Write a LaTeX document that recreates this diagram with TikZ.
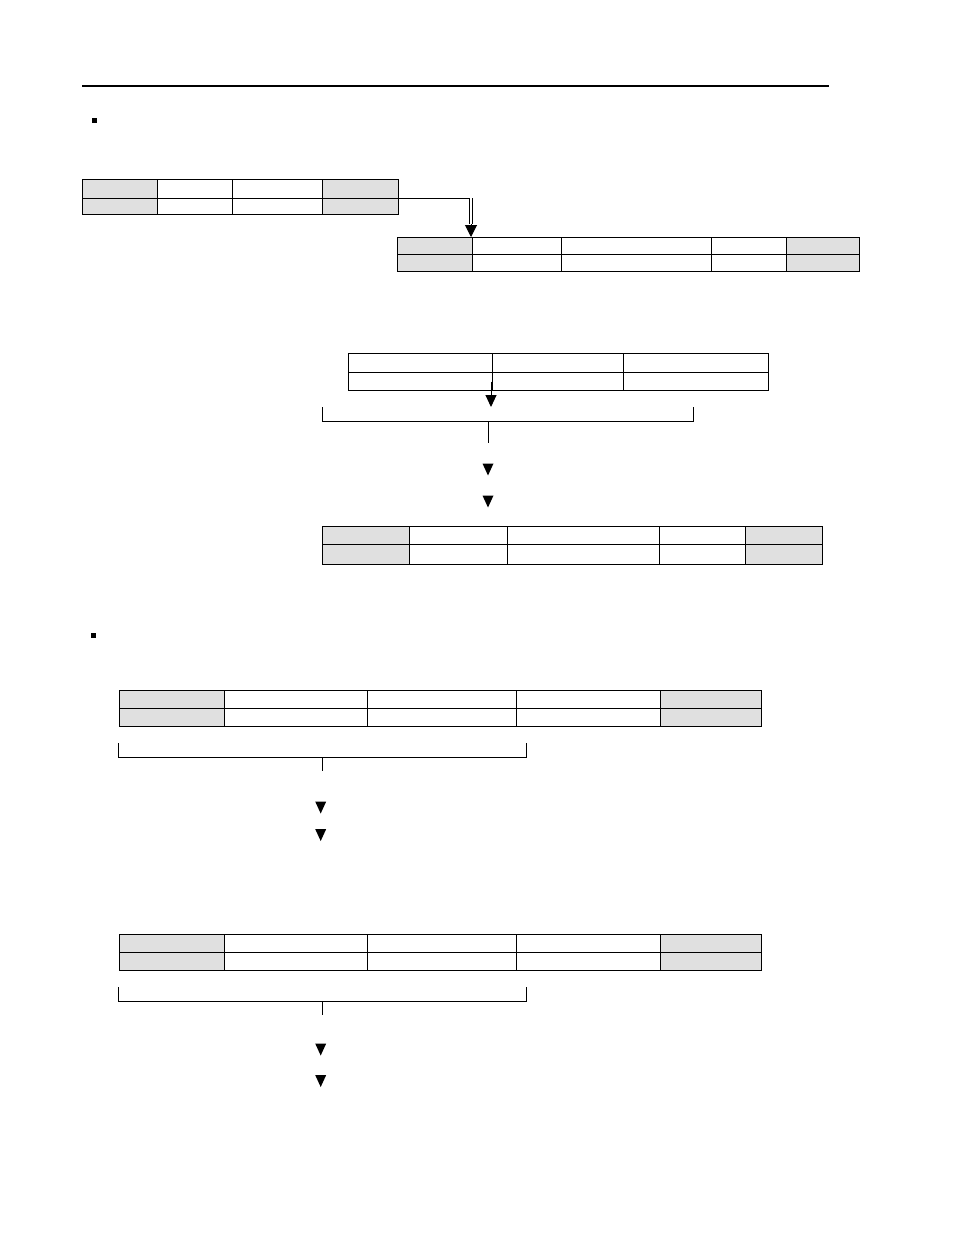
\documentclass[tikz,border=0pt]{standalone}
\usetikzlibrary{arrows.meta}
\definecolor{cellgrey}{RGB}{224,224,224}
\tikzstyle{cell} = [draw=black, line width=1pt, rectangle, inner sep=0pt, anchor=north west]
\tikzstyle{link} = [draw=black, line width=1pt]
\tikzstyle{tip} = [-{Triangle[width=11pt,length=12pt]}]
\tikzset{downtip/.pic={\fill (-5.5,0) -- (5.5,0) -- (0,12) -- cycle;}}

\begin{document}
\begin{tikzpicture}[x=1pt, y=-1pt]
\useasboundingbox (0,0) rectangle (954,1235);
\draw[line width=2pt] (82,86) -- (829,86);
\fill (92.2,118.2) rectangle ++(5,5);
\fill (91.2,633.2) rectangle ++(5,5);

% first section
\foreach \xa/\xw/\xf [count=\i] in {82/75/cellgrey, 157/75/white, 232/90/white, 322/76/cellgrey}{
  \node[cell, fill=\xf, minimum width=\xw pt, minimum height=19pt] (A-1-\i) at (\xa,179) {};
  \node[cell, fill=\xf, minimum width=\xw pt, minimum height=16pt] (A-2-\i) at (\xa,198) {};
}
\foreach \xa/\xw/\xf [count=\i] in {397/75/cellgrey, 472/89/white, 561/150/white, 711/75/white, 786/73/cellgrey}{
  \node[cell, fill=\xf, minimum width=\xw pt, minimum height=17pt] (B-1-\i) at (\xa,237) {};
  \node[cell, fill=\xf, minimum width=\xw pt, minimum height=17pt] (B-2-\i) at (\xa,254) {};
}
\coordinate (AB) at (471,198);
\coordinate (ABtip) at (471,224);
\draw[link] (A-2-4.north east) -- (AB);
\draw[link, double, double distance=2pt] (AB) -- (ABtip);
\draw[link, -{Triangle[width=12pt,length=12pt]}] (ABtip) -- (ABtip |- B-1-2.north west);

\foreach \xa/\xw [count=\i] in {348/144, 492/131, 623/145}{
  \node[cell, fill=white, minimum width=\xw pt, minimum height=19pt] (C-1-\i) at (\xa,353) {};
  \node[cell, fill=white, minimum width=\xw pt, minimum height=18pt] (C-2-\i) at (\xa,372) {};
}
\coordinate (brC-l) at (322,407);
\coordinate (brC-r) at (693,407);
\coordinate (brC) at (488,421);
\draw[link, tip] ([xshift=-2pt]C-2-1.east) -- ([xshift=-2pt]C-2-1.east |- brC-l);
\draw[link] (brC-l) |- (brC-r |- brC) -- (brC-r);
\draw[link] (brC) -- ++(0,22);
\pic at (488,463.5) {downtip};
\pic at (488,495.5) {downtip};

\foreach \xa/\xw/\xf [count=\i] in {322/87/cellgrey, 409/98/white, 507/152/white, 659/86/white, 745/77/cellgrey}{
  \node[cell, fill=\xf, minimum width=\xw pt, minimum height=18pt] (D-1-\i) at (\xa,525.7) {};
  \node[cell, fill=\xf, minimum width=\xw pt, minimum height=20.6pt] (D-2-\i) at (\xa,543.7) {};
}

% second section
\foreach \tb/\ty/\ta/\tc in {E/689.5/801.5/829, F/933.5/1043.5/1075}{
  \foreach \xa/\xw/\xf [count=\i] in {119/105/cellgrey, 224/143/white, 367/149/white, 516/144/white, 660/101/cellgrey}{
    \node[cell, fill=\xf, minimum width=\xw pt, minimum height=18pt] (\tb-1-\i) at (\xa,\ty) {};
    \node[cell, fill=\xf, minimum width=\xw pt, minimum height=18.5pt] (\tb-2-\i) at (\xa,\ty+18) {};
  }
  \coordinate (br\tb-l) at (118,\ty+53.5);
  \coordinate (br\tb-r) at (526,\ty+53.5);
  \coordinate (br\tb) at (322.3,\ty+67.5);
  \draw[link] (br\tb-l) |- (br\tb-r |- br\tb) -- (br\tb-r);
  \draw[link] (br\tb) -- ++(0,14);
  \pic at (320.7,\ta) {downtip};
  \pic at (320.7,\tc) {downtip};
}
\end{tikzpicture}
\end{document}
